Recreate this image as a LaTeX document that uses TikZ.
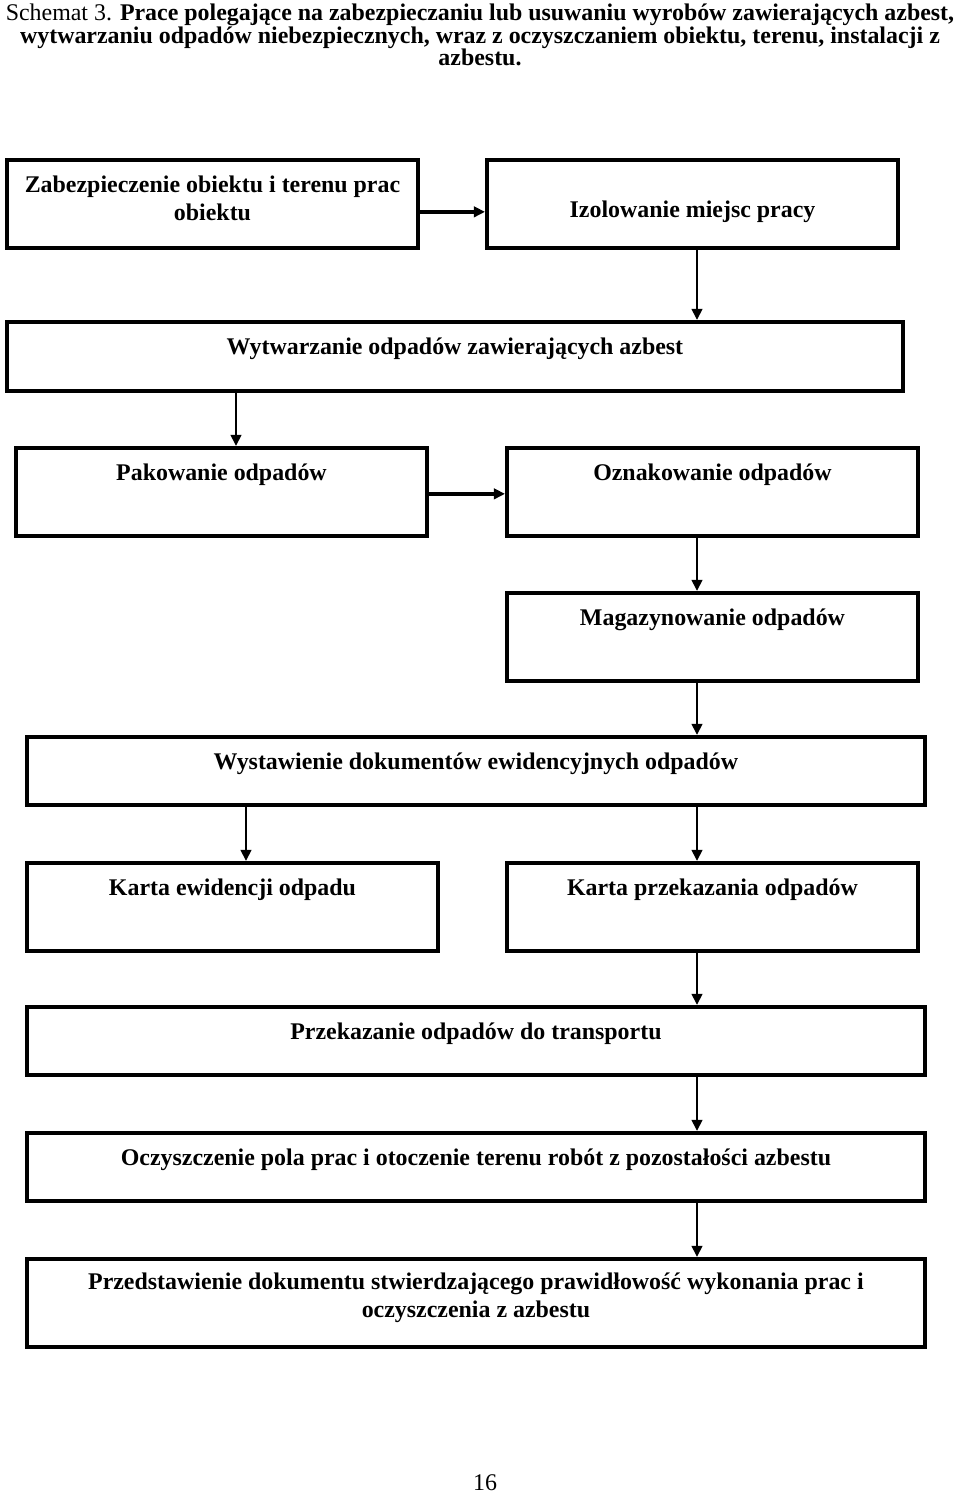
\documentclass[tikz,border=0pt]{standalone}
\usepackage{fontspec}
\setmainfont{Liberation Serif}
\usetikzlibrary{arrows.meta}

\begin{document}
\begin{tikzpicture}[
  x=0.025cm, y=-0.025cm,
  box/.style={rectangle, draw=black, line width=2.6pt, align=center, anchor=north west, inner xsep=4pt, font=\fontsize{17}{20}\selectfont\bfseries},
  half/.style={minimum width=10.28cm},
  wide/.style={minimum width=22.45cm},
  topline/.style={inner ysep=0pt, text height=0.825cm, text depth=#1},
  varrow/.style={-{Triangle[length=8pt, width=7.5pt]}, line width=2pt},
  harrow/.style={-{Triangle[length=8pt, width=7.5pt]}, line width=3.2pt}
]
\useasboundingbox (0,0) rectangle (960,1494);

\node[anchor=north, align=center, font=\fontsize{17}{16}\selectfont] (tytul) at (480,-1)
  {Schemat 3. \textbf{Prace polegające na zabezpieczaniu lub usuwaniu wyrobów zawierających azbest,}\\
   \textbf{wytwarzaniu odpadów niebezpiecznych, wraz z oczyszczaniem obiektu, terenu, instalacji z}\\
   \textbf{azbestu.}};

\node[box, half, inner ysep=0pt, text height=1.525cm, text depth=0.675cm] (zab) at (5,158) {Zabezpieczenie obiektu i terenu prac\\obiektu};
\node[box, half, topline=0.75cm, text height=1.45cm] (izol) at (485,158) {Izolowanie miejsc pracy};
\node[box, minimum width=22.4cm, topline=0.9cm] (wyt) at (5,320) {Wytwarzanie odpadów zawierających azbest};
\node[box, half, topline=1.375cm] (pak) at (14,446) {Pakowanie odpadów};
\node[box, half, topline=1.375cm] (ozn) at (505,446) {Oznakowanie odpadów};
\node[box, half, topline=1.375cm] (mag) at (505,591) {Magazynowanie odpadów};
\node[box, wide, topline=0.875cm] (wys) at (25,735) {Wystawienie dokumentów ewidencyjnych odpadów};
\node[box, half, topline=1.375cm] (kart1) at (25,861) {Karta ewidencji odpadu};
\node[box, half, topline=1.375cm] (kart2) at (505,861) {Karta przekazania odpadów};
\node[box, wide, topline=0.875cm] (przek) at (25,1005) {Przekazanie odpadów do transportu};
\node[box, wide, topline=0.875cm] (ocz) at (25,1131) {Oczyszczenie pola prac i otoczenie terenu robót z pozostałości azbestu};
\node[box, wide, inner ysep=0pt, text height=1.475cm, text depth=0.725cm] (przed) at (25,1257) {Przedstawienie dokumentu stwierdzającego prawidłowość wykonania prac i\\oczyszczenia z azbestu};

\node[font=\fontsize{17}{20}\selectfont, inner sep=0pt] (strona) at (485,1483) {16};

% kolumny strzalek
\coordinate (rcol) at (697,0);
\coordinate (lcol1) at (236,0);
\coordinate (lcol2) at (246,0);

\draw[harrow] ([yshift=-0.2cm]zab.east) -- ([yshift=-0.2cm]izol.west);
\draw[varrow] (izol.south -| rcol) -- (wyt.north -| rcol);
\draw[varrow] (wyt.south -| lcol1) -- (pak.north -| lcol1);
\draw[harrow] ([yshift=-0.05cm]pak.east) -- ([yshift=-0.05cm]pak.east -| ozn.west);
\draw[varrow] (ozn.south -| rcol) -- (mag.north -| rcol);
\draw[varrow] (mag.south -| rcol) -- (wys.north -| rcol);
\draw[varrow] (wys.south -| lcol2) -- (kart1.north -| lcol2);
\draw[varrow] (wys.south -| rcol) -- (kart2.north -| rcol);
\draw[varrow] (kart2.south -| rcol) -- (przek.north -| rcol);
\draw[varrow] (przek.south -| rcol) -- (ocz.north -| rcol);
\draw[varrow] (ocz.south -| rcol) -- (przed.north -| rcol);
\end{tikzpicture}
\end{document}
